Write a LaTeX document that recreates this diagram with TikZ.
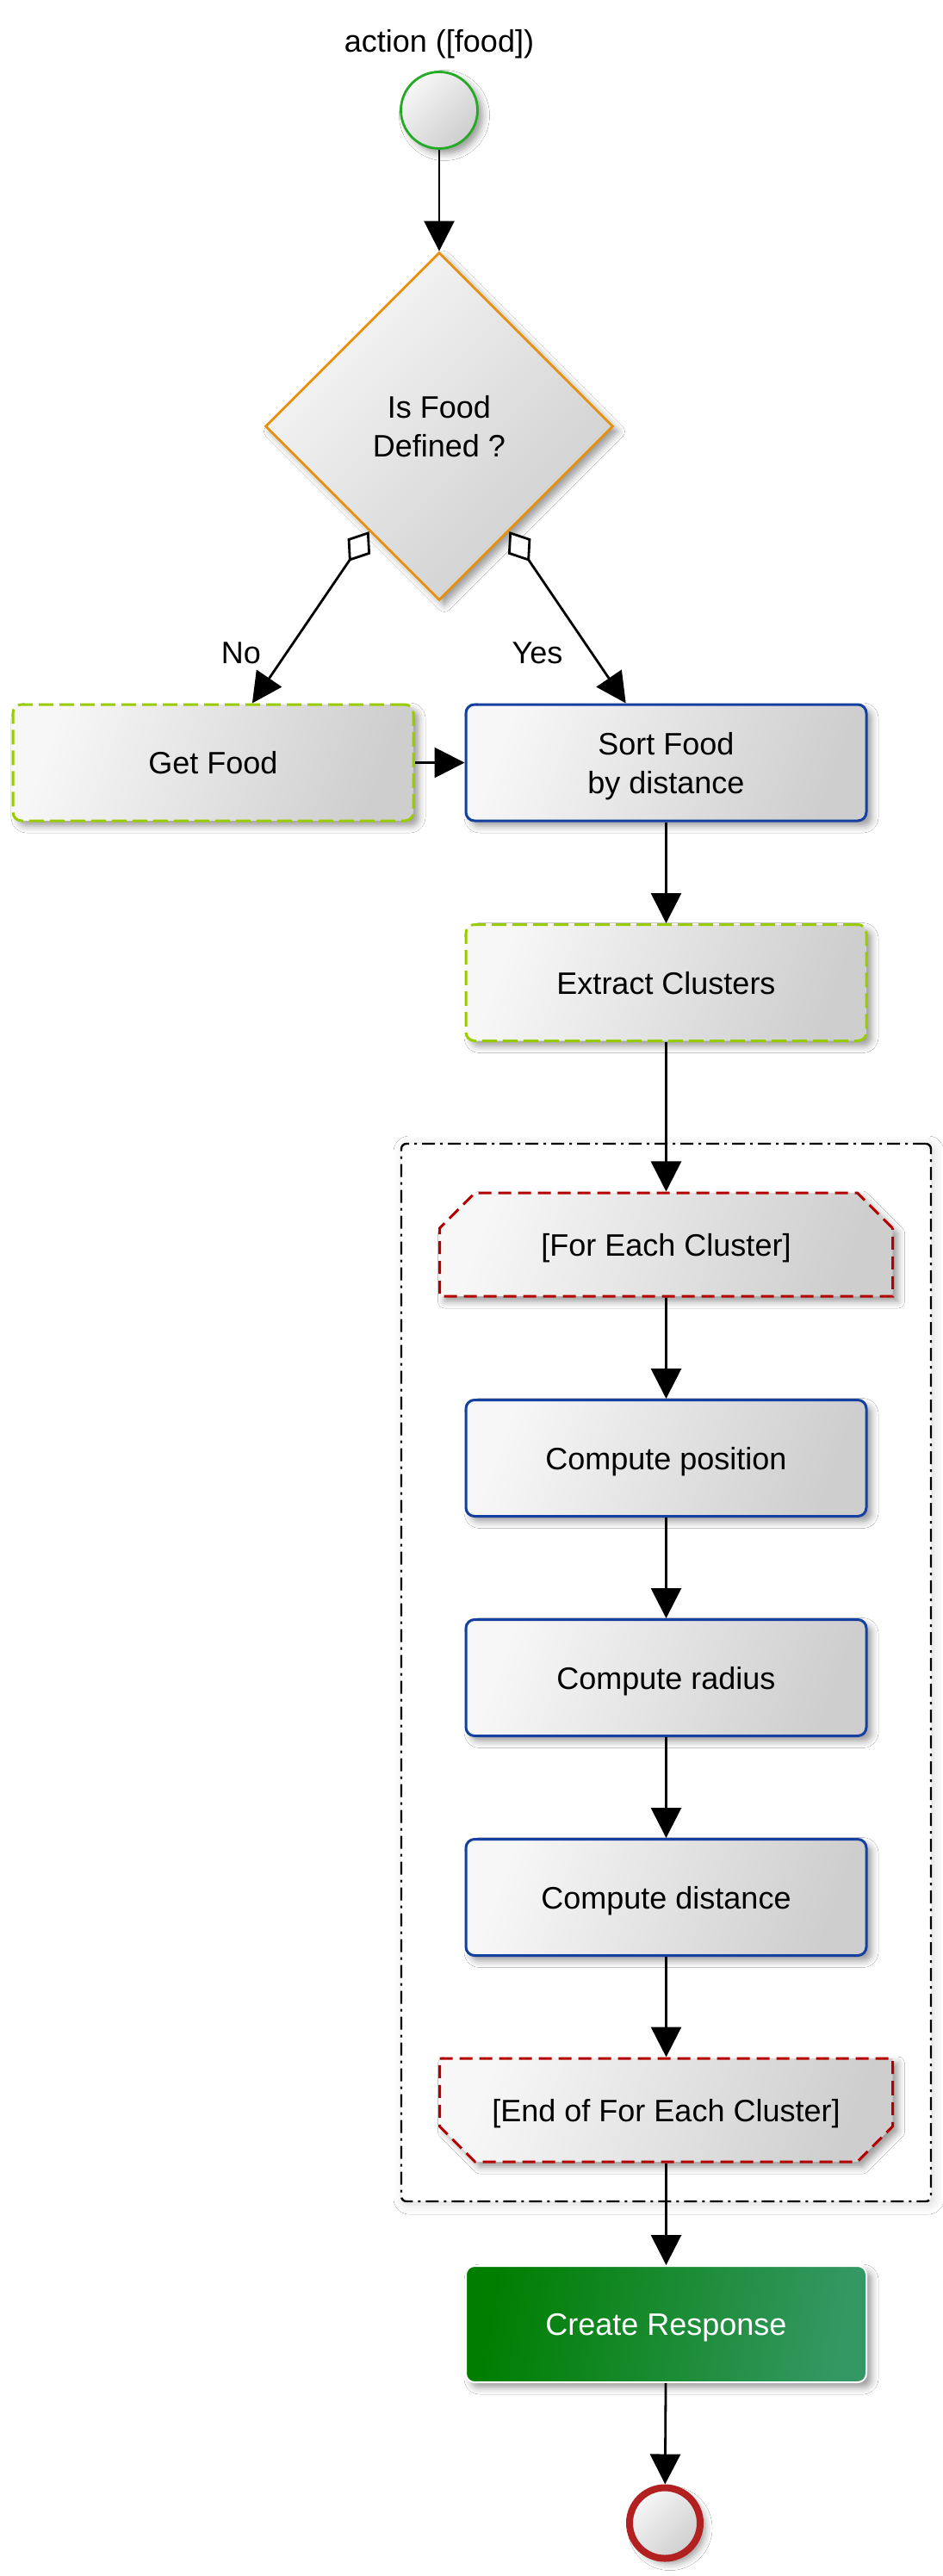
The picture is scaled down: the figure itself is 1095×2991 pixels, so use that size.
\documentclass[tikz,border=0pt]{standalone}
\usepackage{fontspec}
\setmainfont{Liberation Sans}
\usetikzlibrary{arrows.meta,shapes.geometric,shapes.misc,shadows.blur,calc}
\definecolor{gfl}{RGB}{247,247,247}
\definecolor{gfr}{RGB}{206,206,206}
\definecolor{actblue}{RGB}{22,64,160}
\definecolor{extgreen}{RGB}{153,204,0}
\definecolor{loopred}{RGB}{180,0,0}
\definecolor{decorange}{RGB}{232,144,16}
\definecolor{startgreen}{RGB}{36,170,36}
\definecolor{endred}{RGB}{178,32,32}
\definecolor{finl}{RGB}{0,126,0}
\definecolor{finr}{RGB}{52,152,100}
\begin{document}
\begin{tikzpicture}[x=0.5pt,y=-0.5pt,
  base/.style={font=\fontsize{18pt}{22.5pt}\selectfont, text=black, align=center, inner sep=0pt, text depth=0pt},
  shad/.style={blur shadow={shadow xshift=3pt,shadow yshift=-3pt,shadow blur radius=4pt,shadow opacity=40}},
  graybox/.style={base, rectangle, rounded corners=5pt, minimum width=232.5pt, minimum height=67.5pt,
    top color=gfl, bottom color=gfr, shading angle=70, shad, line width=1.5pt},
  actbox/.style={graybox, draw=actblue},
  extbox/.style={graybox, draw=extgreen, dash pattern=on 8.5pt off 3.5pt},
  finalbox/.style={graybox, top color=finl, bottom color=finr, shading angle=80, draw=white, line width=1pt, text=white},
  loopbox/.style={base, shape=chamfered rectangle, chamfered rectangle xsep=14pt, chamfered rectangle ysep=14pt,
    minimum width=263pt, minimum height=60pt, draw=loopred, dash pattern=on 7.5pt off 4pt, line width=1.5pt,
    top color=gfl, bottom color=gfr, shading angle=70, shad},
  loopstart/.style={loopbox, chamfered rectangle corners={north west,north east}},
  loopend/.style={loopbox, chamfered rectangle corners={south west,south east}},
  decision/.style={base, shape=diamond, aspect=1, minimum width=202pt, minimum height=202pt,
    draw=decorange, line width=1.4pt, top color=gfl, bottom color=gfr, shading angle=45, shad},
  startnode/.style={circle, inner sep=0pt, minimum size=44.5pt, draw=startgreen, line width=1.4pt,
    top color=gfl, bottom color=gfr, shading angle=45, shad},
  endnode/.style={circle, inner sep=0pt, minimum size=41pt, draw=endred, line width=4pt,
    top color=gfl, bottom color=gfr, shading angle=45, shad},
  container/.style={rectangle, inner sep=0pt, rounded corners=3pt, draw=black, line width=1.2pt,
    dash pattern=on 7.5pt off 3pt on 1.5pt off 3pt, fill=white,
    blur shadow={shadow xshift=1.5pt,shadow yshift=-1.5pt,shadow blur radius=6pt,shadow opacity=15}},
  flow/.style={draw=black, line width=1.4pt, -{Triangle[length=17.5pt,width=17.5pt]}},
  cond/.style={draw=black, line width=1.4pt, {Diamond[fill=white,length=21pt,width=16pt]}-{Triangle[length=17.5pt,width=17.5pt]}},
  lbl/.style={base}
]
\fill[white] (0,0) rectangle (1095,2991);
\useasboundingbox (0,0) rectangle (1095,2991);

% container
\node[container, minimum width=307.5pt, minimum height=614pt] (loop) at (773.5,1942) {};

% nodes
\node[base] (title) at (510,47) {action ([food])};
\node[startnode] (start) at (510,128) {};
\node[decision] (dec) at (510,495) {Is Food\\Defined ?};
\node[extbox] (get) at (247.5,885.5) {Get Food};
\node[actbox] (sort) at (773.5,885.5) {Sort Food\\by distance};
\node[extbox] (extract) at (773.5,1141) {Extract Clusters};
\node[loopstart] (fe) at (773.5,1445) {[For Each Cluster]};
\node[actbox] (pos) at (773.5,1693) {Compute position};
\node[actbox] (rad) at (773.5,1948) {Compute radius};
\node[actbox] (dist) at (773.5,2203) {Compute distance};
\node[loopend] (efe) at (773.5,2450) {[End of For Each Cluster]};
\node[finalbox] (resp) at (773.5,2698.5) {Create Response};
\node[endnode] (stop) at (772,2929.5) {};

\node[lbl] (no) at (280,758) {No};
\node[lbl] (yes) at (624,758) {Yes};

% connector ends
\coordinate (nostart) at ($(dec.west)!0.6!(dec.south)$);
\coordinate (yesstart) at ($(dec.east)!0.6!(dec.south)$);
\coordinate (noend) at ($(get.north west)!0.597!(get.north east)$);
\coordinate (yesend) at ($(sort.north west)!0.4!(sort.north east)$);

% connectors
\draw[flow] (start) -- (dec);
\draw[cond] (nostart) -- (noend);
\draw[cond] (yesstart) -- (yesend);
\draw[flow] (get) -- (sort);
\draw[flow] (sort) -- (extract);
\draw[flow] (extract) -- (fe);
\draw[flow] (fe) -- (pos);
\draw[flow] (pos) -- (rad);
\draw[flow] (rad) -- (dist);
\draw[flow] (dist) -- (efe);
\draw[flow] (efe) -- (resp);
\draw[flow] (resp) -- (stop);
\end{tikzpicture}
\end{document}
